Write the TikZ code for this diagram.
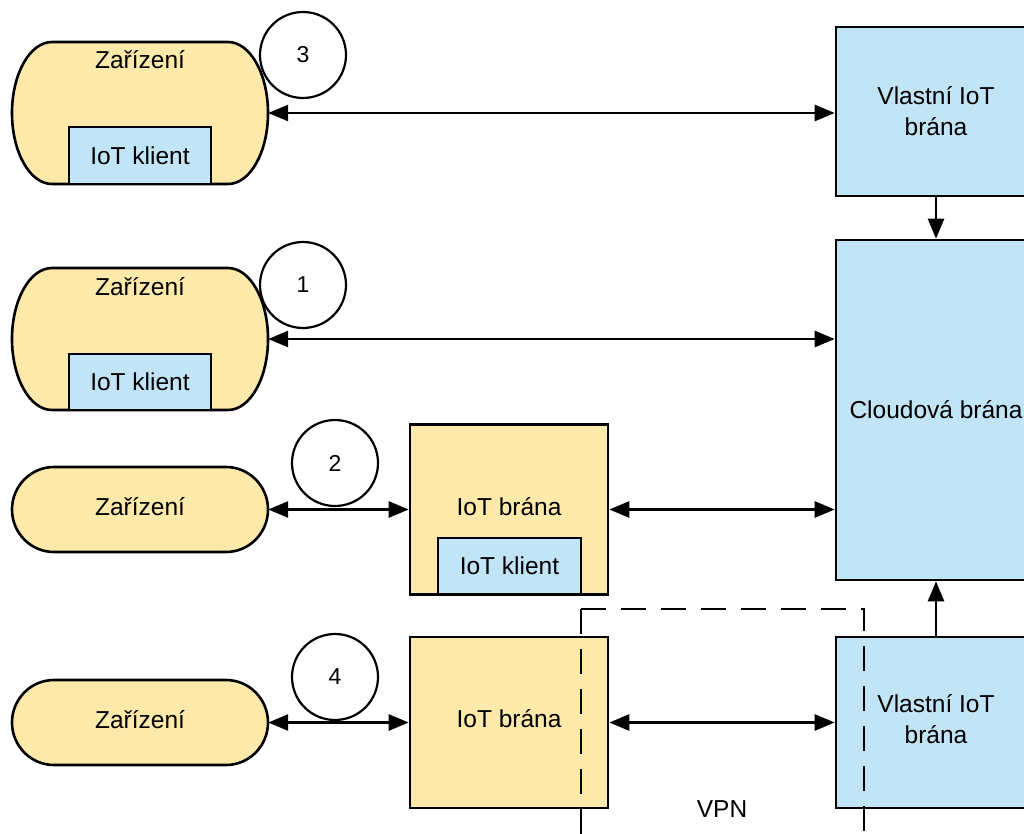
\documentclass[tikz,border=0pt]{standalone}
\usepackage{fontspec}
\setmainfont{Liberation Sans}
\usetikzlibrary{arrows.meta}
\definecolor{yel}{HTML}{FDE9A9}
\definecolor{blu}{HTML}{C1E4F6}
\begin{document}
\begin{tikzpicture}[x=1pt,y=-1pt,
 lbl/.style={font=\fontsize{24.5}{31}\selectfont, align=center, inner sep=0},
 box/.style={draw=black, line width=2.6pt, inner sep=0, anchor=center, font=\fontsize{24.5}{31}\selectfont, align=center},
 ybox/.style={box, fill=yel},
 bbox/.style={box, fill=blu},
 anch/.style={inner sep=0, draw=none},
 num/.style={circle, draw=black, line width=2.2pt, fill=white, minimum size=86pt, inner sep=0, font=\fontsize{23}{27}\selectfont},
 dev/.style={draw=black, line width=2.6pt, fill=yel},
 conn/.style={line width=2.6pt, {Triangle[length=20pt,width=16pt]}-{Triangle[length=20pt,width=16pt]}},
 oneway/.style={line width=2.6pt, -{Triangle[length=20pt,width=16pt]}},
 vpnline/.style={line width=2.6pt, dash pattern=on 25pt off 15pt}
]
\useasboundingbox (0,0) rectangle (1024,834);
\clip (0,0) rectangle (1024,834);

% ---- device 3 ----
\draw[dev] (52,42) -- (228,42) arc[start angle=-90,end angle=90,x radius=40,y radius=71] -- (52,184) arc[start angle=90,end angle=270,x radius=40,y radius=71] -- cycle;
\node[anch, minimum width=256pt, minimum height=142pt] (d3) at (140,113) {};
\node[lbl] (d3t) at (140,60) {Zařízení};
\node[bbox, minimum width=142pt, minimum height=57pt] (k3) at (140,155.5) {IoT klient};

% ---- device 1 ----
\draw[dev] (52,268) -- (228,268) arc[start angle=-90,end angle=90,x radius=40,y radius=71] -- (52,410) arc[start angle=90,end angle=270,x radius=40,y radius=71] -- cycle;
\node[anch, minimum width=256pt, minimum height=142pt] (d1) at (140,339) {};
\node[lbl] (d1t) at (140,287) {Zařízení};
\node[bbox, minimum width=142pt, minimum height=56pt] (k1) at (140,382) {IoT klient};

% ---- device 2 ----
\draw[dev] (54,467) -- (226,467) arc[start angle=-90,end angle=90,x radius=42,y radius=42.5] -- (54,552) arc[start angle=90,end angle=270,x radius=42,y radius=42.5] -- cycle;
\node[anch, minimum width=256pt, minimum height=85pt] (d2) at (140,509.5) {};
\node[lbl] (d2t) at (140,507) {Zařízení};

% ---- device 4 ----
\draw[dev] (54,680) -- (226,680) arc[start angle=-90,end angle=90,x radius=42,y radius=42.5] -- (54,765) arc[start angle=90,end angle=270,x radius=42,y radius=42.5] -- cycle;
\node[anch, minimum width=256pt, minimum height=85pt] (d4) at (140,722.5) {};
\node[lbl] (d4t) at (140,720) {Zařízení};

% ---- gateways ----
\node[ybox, minimum width=198pt, minimum height=170pt] (gw1) at (509,509.5) {};
\node[lbl] (gw1t) at (509,507) {IoT brána};
\node[bbox, minimum width=143pt, minimum height=56pt] (k2) at (509.5,566) {IoT klient};
\node[ybox, minimum width=198pt, minimum height=171pt] (gw2) at (509,722.5) {};
\node[lbl] (gw2t) at (509,719) {IoT brána};

% ---- right column ----
\node[bbox, minimum width=200pt, minimum height=169pt] (v1) at (936,111.5) {Vlastní IoT\\brána};
\node[bbox, minimum width=200pt, minimum height=340pt] (cloud) at (936,410) {Cloudová brána};
\node[bbox, minimum width=200pt, minimum height=171pt] (v2) at (936,722.5) {};
\node[lbl] (v2t) at (936,719.5) {Vlastní IoT\\brána};

% ---- number circles ----
\node[num] (c3) at (303,55) {3};
\node[num] (c1) at (303,285) {1};
\node[num] (c2) at (335,463) {2};
\node[num] (c4) at (335,677) {4};

% ---- connectors ----
\draw[conn] (d3.east) -- (d3.east -| v1.west);
\draw[conn] (d1.east) -- (d1.east -| cloud.west);
\draw[conn] (d2.east) -- (d2.east -| gw1.west);
\draw[conn] (gw1.east) -- (gw1.east -| cloud.west);
\draw[conn] (d4.east) -- (d4.east -| gw2.west);
\draw[conn] (gw2.east) -- (gw2.east -| v2.west);
\draw[oneway] (v1.south) -- (cloud.north);
\draw[oneway] (v2.north) -- (cloud.south);

% ---- VPN region ----
\coordinate (vpnbl) at (581,850);
\coordinate (vpntl) at (581,609);
\coordinate (vpntr) at (864,609);
\coordinate (vpnbr) at (864,850);
\draw[vpnline] (vpntl) -- (vpntr) -- (vpnbr);
\draw[vpnline] (vpntl) -- (vpnbl);
\node[lbl] (vpn) at (722,809) {VPN};
\end{tikzpicture}
\end{document}
